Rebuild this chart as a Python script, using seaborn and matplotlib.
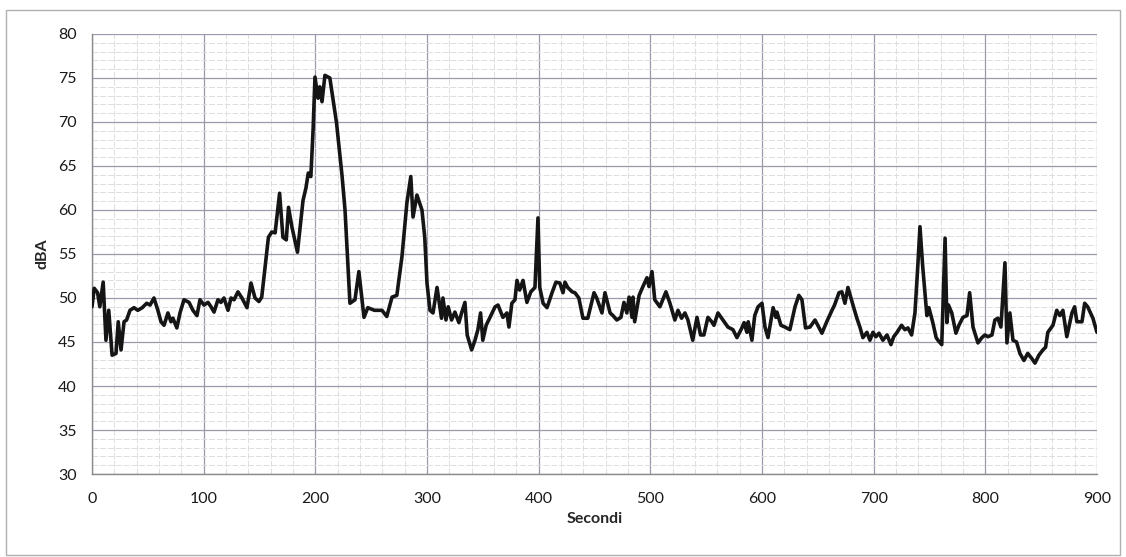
import numpy as np
import pandas as pd
import matplotlib
matplotlib.use("Agg")
import matplotlib.pyplot as plt
from matplotlib.ticker import MultipleLocator
from matplotlib.patches import Rectangle
import seaborn as sns

## data (seconds, dBA)
seconds = [0, 2, 5, 7, 10, 12.5, 15, 18, 21.5, 23.5, 26, 28.7, 31, 34, 37.6, 41, 45, 49, 52, 55.5,
           59, 61.8, 64.5, 68, 70.7, 72.5, 76, 78.8, 82.4, 86.9, 90.4, 94, 96.7, 100.3, 103.9, 106.6,
           109.3, 112.8, 115.5, 118.2, 121.8, 124.5, 127.2, 130.7, 134.3, 138.8, 142.4, 146, 149.5, 152,
           158, 161, 164, 168, 171, 174, 176, 179, 184, 189, 191.6, 193.7, 196, 198, 199.7, 202.4,
           204, 206, 208.6, 213, 219, 224, 226.6, 231, 235.5, 239, 243.6, 247, 253, 259.7, 264,
           268.7, 273, 277.6, 282, 285.5, 287.5, 291, 295.5, 298, 300, 302.7, 305.4, 309, 313, 314.3,
           317, 319, 322, 325, 328.6, 331, 334, 336, 340, 343, 345.6, 348, 350, 353, 356.4, 361,
           363.6, 368, 371.6, 373.4, 376, 378.8, 380.6, 383, 386, 389.5, 393, 396.7, 399.4, 401, 404,
           407.5, 412, 415.5, 419, 421.8, 423.6, 426, 430, 432.5, 436, 439.7, 444, 449.6, 452, 456.7,
           459.4, 464, 466.6, 470, 473.7, 476.4, 479, 481, 483.6, 484.5, 486, 490, 493.4, 497, 498.8,
           501.5, 504, 508.6, 514, 517.6, 522, 524.8, 528, 531, 533.7, 538, 541.8, 545, 548, 551.6,
           555, 557, 560.6, 565, 569.5, 574, 577.6, 582, 584, 586.5, 587.7, 591, 593.5, 596.5, 600,
           602.7, 605.4, 610, 612.5, 613.4, 617, 620.6, 625, 629.6, 633, 635.8, 639, 643, 647.5, 650,
           653.7, 658, 662.7, 665, 669, 671.6, 674.3, 677, 681.5, 685, 687.7, 690.4, 694, 696.7,
           699.4, 702, 704.8, 708.3, 712, 715.5, 718, 721, 725, 728, 730.7, 734, 737, 739.5, 741.5,
           744, 747.7, 749.5, 753, 756, 757.6, 761, 764, 765.6, 767, 770, 773.7, 776.4, 780, 783.6,
           786, 789, 793.4, 797, 799.7, 802.4, 806, 808.6, 811.3, 814, 817.6, 819.4, 822, 824.8, 828,
           831, 834.6, 838, 841.8, 844.5, 848, 851.6, 854, 856, 860.6, 864, 866.8, 869.5, 873, 877.6,
           880, 882, 886.6, 889, 891.7, 896.4, 900]
dba = [49.0, 51.1, 50.6, 49.0, 51.8, 45.2, 48.6, 43.5, 43.7, 47.3, 44.1, 47.3, 47.5, 48.6, 48.9, 48.6, 48.9, 49.4, 49.2, 50.0,
       48.6, 47.3, 46.9, 48.3, 47.3, 47.7, 46.6, 48.3, 49.8, 49.5, 48.6, 48.0, 49.8, 49.2, 49.5, 49.0,
       48.4, 49.8, 49.5, 50.0, 48.6, 50.0, 49.8, 50.7, 50.0, 48.9, 51.7, 50.0, 49.6, 50.1,
       56.9, 57.5, 57.4, 61.9, 56.9, 56.6, 60.3, 58.1, 55.2, 61.1, 62.5, 64.2, 63.8, 69.1, 75.1, 72.7,
       74.0, 72.3, 75.3, 75.0, 69.9, 63.8, 60.0, 49.4, 49.8, 53.0, 47.8, 48.9, 48.6, 48.6, 47.9,
       50.1, 50.3, 54.7, 60.8, 63.8, 59.2, 61.7, 60.0, 56.9, 51.7, 48.6, 48.3, 51.2, 47.7, 50.0,
       47.5, 49.0, 47.5, 48.4, 47.2, 48.3, 49.5, 45.8, 44.1, 45.2, 46.4, 48.3, 45.2, 46.9, 47.8, 49.0,
       49.2, 47.8, 48.3, 46.7, 49.4, 49.8, 52.0, 50.9, 52.0, 49.5, 50.7, 51.2, 59.1, 51.2, 49.4,
       48.9, 50.6, 51.8, 51.7, 50.6, 51.8, 51.2, 50.7, 50.6, 50.0, 47.7, 47.7, 50.6, 50.0, 48.3,
       50.6, 48.3, 48.0, 47.5, 47.8, 49.5, 48.3, 50.1, 47.8, 50.1, 47.3, 50.3, 51.3, 52.3, 51.3,
       53.0, 49.8, 49.0, 50.7, 49.4, 47.5, 48.6, 47.7, 48.3, 47.5, 45.2, 47.8, 45.8, 45.8, 47.8,
       47.3, 46.9, 48.3, 47.5, 46.7, 46.4, 45.5, 46.6, 47.2, 46.1, 47.3, 45.2, 48.0, 49.0, 49.4,
       46.7, 45.5, 48.9, 47.8, 48.4, 46.9, 46.7, 46.4, 49.0, 50.3, 49.8, 46.6, 46.7, 47.5, 46.9,
       46.0, 47.3, 48.6, 49.2, 50.6, 50.7, 49.4, 51.2, 49.2, 47.7, 46.7, 45.5, 46.1, 45.2,
       46.1, 45.6, 46.0, 45.2, 45.8, 44.7, 45.6, 46.1, 46.9, 46.4, 46.6, 45.8, 48.3, 53.5, 58.1,
       53.5, 48.0, 48.9, 47.2, 45.5, 45.2, 44.7, 56.8, 47.2, 49.2, 48.3, 46.0, 46.9, 47.8, 48.0,
       50.6, 46.7, 44.9, 45.5, 45.8, 45.6, 45.8, 47.5, 47.7, 46.7, 54.0, 44.9, 48.3, 45.2, 45.0,
       43.7, 42.9, 43.7, 43.1, 42.6, 43.5, 44.1, 44.4, 46.1, 46.9, 48.6, 48.0, 48.6, 45.6, 48.3,
       49.0, 47.3, 47.3, 49.4, 49.0, 47.7, 46.1]

x_ticks = [0, 100, 200, 300, 400, 500, 600, 700, 800, 900]
y_ticks = [30, 35, 40, 45, 50, 55, 60, 65, 70, 75, 80]

df = pd.DataFrame({'Secondi': seconds, 'dBA': dba})

sns.set_style("white")
plt.rcParams['font.family'] = ['Lato', 'DejaVu Sans']

fig = plt.figure(figsize=(11.26, 5.57), dpi=100)
ax = fig.add_axes([0.0817, 0.149, 0.8925, 0.790])

sns.lineplot(data=df, x='Secondi', y='dBA', ax=ax, color='#151515', linewidth=2.6, zorder=3)

ax.set_xlim(0, 900)
ax.set_ylim(30, 80)
ax.set_xticks(x_ticks)
ax.set_yticks(y_ticks)
ax.xaxis.set_minor_locator(MultipleLocator(20))
ax.yaxis.set_minor_locator(MultipleLocator(1))

# major grid a bit darker, minor grid faint and broken like the scan
ax.grid(which='major', color='#9a9aab', linewidth=0.9, zorder=1)
ax.grid(which='minor', color='#dcdce2', linewidth=0.7, linestyle=(0, (6, 2)), zorder=0)
ax.set_axisbelow(True)

for s in ['top', 'right']:
    ax.spines[s].set_visible(False)
for s in ['left', 'bottom']:
    ax.spines[s].set_color('#8a8a8a')
    ax.spines[s].set_linewidth(1.0)

ax.tick_params(axis='both', which='major', direction='out', length=5, color='#8a8a8a',
               labelsize=11.5, labelcolor='#1a1a1a')
ax.tick_params(axis='both', which='minor', length=0)
ax.tick_params(axis='x', pad=8)
ax.tick_params(axis='y', pad=6)

ax.set_xlabel('Secondi', fontsize=11.5, fontweight='bold', labelpad=4)
ax.set_ylabel('dBA', fontsize=11.5, fontweight='bold', labelpad=6)

## chart area border
fig.patches.append(Rectangle((0.005, 0.004), 0.99, 0.978, transform=fig.transFigure,
                             fill=False, edgecolor='#b0b0b0', linewidth=1.0))

fig.savefig('out.png', dpi=100)
